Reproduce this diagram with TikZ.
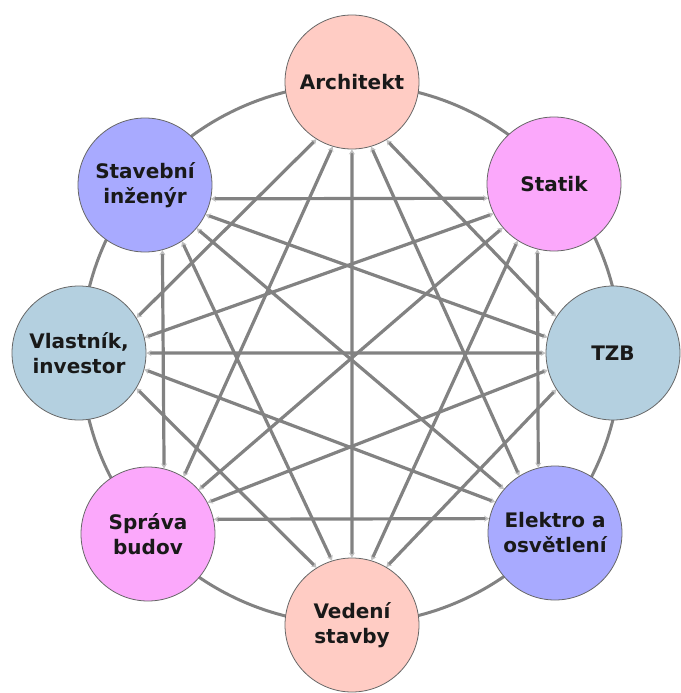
\documentclass[tikz,border=0pt]{standalone}
\usepackage{fontspec}
\setmainfont{DejaVu Sans}
\usetikzlibrary{arrows.meta,backgrounds,calc,intersections}
\definecolor{cpink}{HTML}{FFCCC4}
\definecolor{cblue}{HTML}{A8AAFF}
\definecolor{cmag}{HTML}{FBA8FB}
\definecolor{cgray}{HTML}{B4D0E0}
\definecolor{lin}{HTML}{828282}
\tikzset{
  role/.style={circle, draw=black!60, line width=0.8pt, minimum size=134pt, inner sep=0pt,
    align=center, font=\fontsize{20}{25}\selectfont\bfseries, text=black!90},
  link/.style={draw=lin, line width=3.2pt, {Stealth[length=5pt,width=6pt,color=black!25]}-{Stealth[length=5pt,width=6pt,color=black!25]}},
  ring/.style={draw=lin, line width=3pt}
}
\begin{document}
\begin{tikzpicture}[x=1pt,y=-1pt]
\useasboundingbox (0,0) rectangle (680,693);
\node[role, fill=cpink] (a) at (352,82) {Architekt};
\node[role, fill=cmag] (b) at (554,184) {Statik};
\node[role, fill=cgray] (c) at (613,353) {TZB};
\node[role, fill=cblue] (d) at (555,533) {Elektro a\\osvětlení};
\node[role, fill=cpink] (e) at (352,625) {Vedení\\stavby};
\node[role, fill=cmag] (f) at (148,534) {Správa\\budov};
\node[role, fill=cgray] (g) at (79,353) {Vlastník,\\investor};
\node[role, fill=cblue] (h) at (145,185) {Stavební\\inženýr};
\coordinate (mid) at (351,354);
\foreach \n in {a,b,c,d,e,f,g,h}{
  \coordinate (\n p) at ($(\n.center)!22pt!(mid)$);
  \path[name path global=c\n] (\n.center) circle[radius=67.4pt];
}
\begin{scope}[on background layer]
  \draw[ring] (mid) circle[radius=270pt];
  \foreach \u/\v in {a/c,a/d,a/e,a/f,a/g,b/d,b/e,b/f,b/g,b/h,c/e,c/f,c/g,c/h,d/f,d/g,d/h,e/g,e/h,f/h}{
    \path[name path=ln] (\u p) -- (\v p);
    \path[name intersections={of=ln and c\u, by=s}];
    \path[name intersections={of=ln and c\v, by=t}];
    \draw[link] (s) -- (t);
  }
\end{scope}
\end{tikzpicture}
\end{document}
